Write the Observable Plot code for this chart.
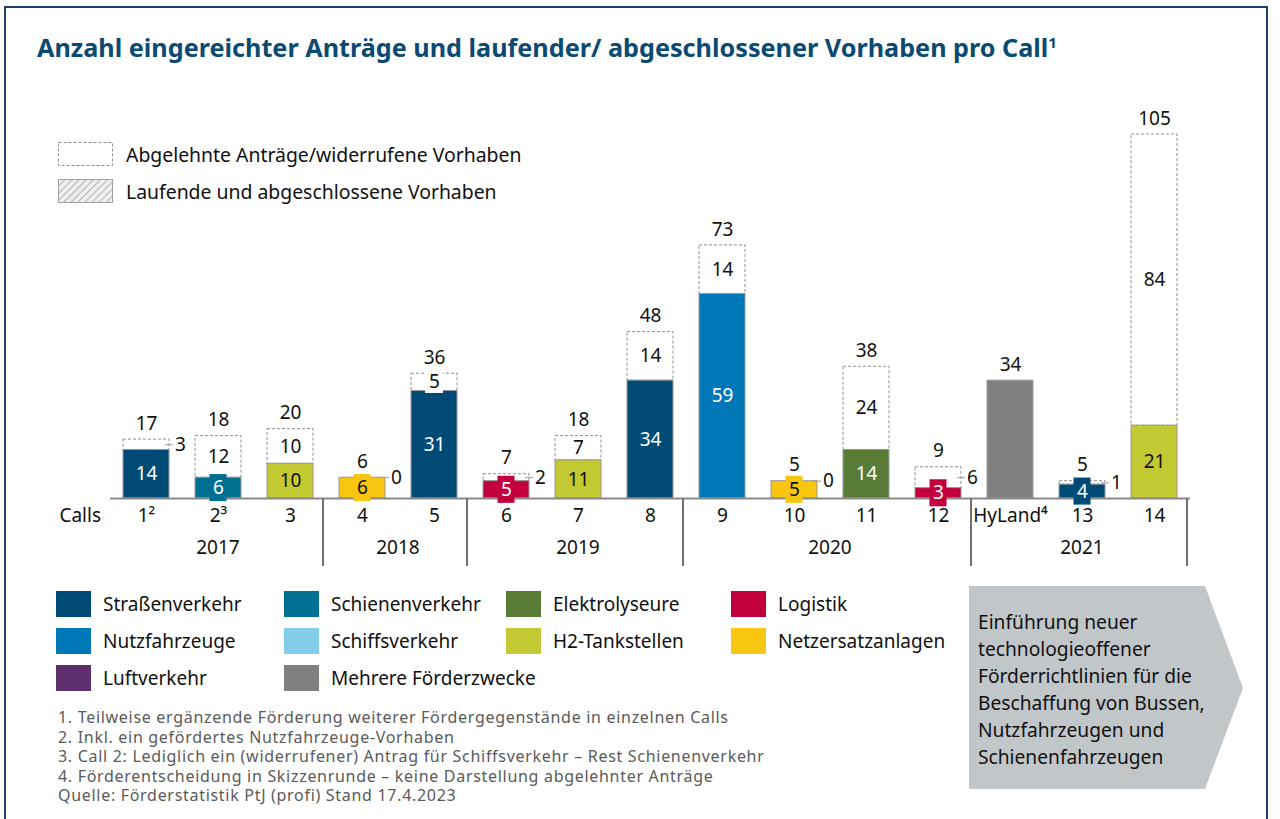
<!DOCTYPE html>
<html>
<head>
<meta charset="utf-8">
<script src="https://cdn.jsdelivr.net/npm/d3@7"></script>
<script src="https://cdn.jsdelivr.net/npm/@observablehq/plot@0.6"></script>
<style>
  html, body { margin: 0; padding: 0; background: #fff; }
  #page { position: relative; width: 1280px; height: 819px; overflow: hidden; background: #fff; font-family: "Noto Sans", sans-serif; color: #111; }
  #frame { position: absolute; left: 4px; top: 6px; width: 1264px; height: 900px; border: 2px solid #223f6b; box-sizing: border-box; }
  #title { position: absolute; left: 0; top: 30px; }
  #toplegend { position: absolute; left: 58px; top: 142px; font-size: 19.4px; }
  #toplegend .row { position: absolute; left: 0; height: 24px; white-space: nowrap; }
  #toplegend .row span { position: absolute; left: 68px; top: 50%; transform: translateY(-50%); }
  #chart { position: absolute; left: 0; top: 100px; }
  .leg { position: absolute; height: 26px; white-space: nowrap; font-size: 19px; }
  .leg .sw { position: absolute; left: 0; top: 0; width: 35px; height: 26px; }
  .leg .lb { position: absolute; left: 47px; top: 50%; transform: translateY(-50%); }
  #notes { position: absolute; left: 58px; top: 708px; font-size: 16px; letter-spacing: 0.7px; line-height: 19.5px; color: #5a5a5a; white-space: nowrap; }
  #arrow { position: absolute; left: 969px; top: 586px; width: 274px; height: 203px; background: #c1c6c9;
           clip-path: polygon(0 0, 236px 0, 274px 102px, 236px 203px, 0 203px);
           box-sizing: border-box; padding: 22px 0 0 9px; font-size: 19.2px; line-height: 27px; color: #111; }
</style>
</head>
<body>
<div id="page">
  <div id="frame"></div>
  <div id="title"></div>
  <div id="toplegend"></div>
  <div id="chart"></div>
  <div id="legend"></div>
  <div id="notes"></div>
  <div id="arrow"></div>
</div>
<script>
// ---------- data ----------
const titleText = "Anzahl eingereichter Anträge und laufender/ abgeschlossener Vorhaben pro Call";
const calls      = ["1", "2", "3", "4", "5", "6", "7", "8", "9", "10", "11", "12", "HyLand", "13", "14"];
const callLabels = ["1²", "2³", "3", "4", "5", "6", "7", "8", "9", "10", "11", "12", "HyLand⁴", "13", "14"];
const callYears  = ["2017", "2017", "2017", "2018", "2018", "2019", "2019", "2019", "2020", "2020", "2020", "2020", "2021", "2021", "2021"];
const funded     = [14, 6, 10, 6, 31, 5, 11, 34, 59, 5, 14, 3, 34, 4, 21];
const rejected   = [3, 12, 10, 0, 5, 2, 7, 14, 14, 0, 24, 6, null, 1, 84];
const totals     = [17, 18, 20, 6, 36, 7, 18, 48, 73, 5, 38, 9, 34, 5, 105];
const purposes   = ["Straßenverkehr", "Schienenverkehr", "H2-Tankstellen", "Netzersatzanlagen", "Straßenverkehr",
                    "Logistik", "H2-Tankstellen", "Straßenverkehr", "Nutzfahrzeuge", "Netzersatzanlagen",
                    "Elektrolyseure", "Logistik", "Mehrere Förderzwecke", "Straßenverkehr", "H2-Tankstellen"];
const years = ["2017", "2018", "2019", "2020", "2021"];
const purposeNames  = ["Straßenverkehr", "Schienenverkehr", "Elektrolyseure", "Logistik",
                       "Nutzfahrzeuge", "Schiffsverkehr", "H2-Tankstellen", "Netzersatzanlagen",
                       "Luftverkehr", "Mehrere Förderzwecke"];
const purposeColors = ["#004b76", "#006f92", "#587c36", "#c2003d",
                       "#0077b6", "#83cdea", "#c3c932", "#f8c611",
                       "#5e2f6c", "#808080"];
const statusLegend = ["Abgelehnte Anträge/widerrufene Vorhaben", "Laufende und abgeschlossene Vorhaben"];
const footnotes = [
  "1. Teilweise ergänzende Förderung weiterer Fördergegenstände in einzelnen Calls",
  "2. Inkl. ein gefördertes Nutzfahrzeuge-Vorhaben",
  "3. Call 2: Lediglich ein (widerrufener) Antrag für Schiffsverkehr – Rest Schienenverkehr",
  "4. Förderentscheidung in Skizzenrunde – keine Darstellung abgelehnter Anträge",
  "Quelle: Förderstatistik PtJ (profi) Stand 17.4.2023"
];
const arrowText = ["Einführung neuer", "technologieoffener", "Förderrichtlinien für die",
                   "Beschaffung von Bussen,", "Nutzfahrzeugen und", "Schienenfahrzeugen"];

// ---------- derived rows ----------
const rows = calls.map((c, i) => ({
  call: c, label: callLabels[i], year: callYears[i], funded: funded[i],
  rejected: rejected[i], total: totals[i], purpose: purposes[i]
}));
const colorOf = Object.fromEntries(purposeNames.map((p, i) => [p, purposeColors[i]]));
const isLight = p => d3.lab(colorOf[p]).l > 65;
const labelOf = Object.fromEntries(rows.map(r => [r.call, r.label]));
const withRej = rows.filter(r => r.rejected != null);
const rejOutside = withRej.filter(r => r.rejected <= 3 || r.total < 10);
const rejInside = withRej.filter(r => !(r.rejected <= 3 || r.total < 10));
const rejHalo = rejInside.filter(r => r.rejected < 6);
const fundedLabeled = rows.filter(r => r.rejected != null);
const smallFunded = fundedLabeled.filter(r => r.funded <= 6);
const mid = r => r.funded + r.rejected / 2;

// ---------- title ----------
{
  const svg = d3.select("#title").append("svg").attr("width", 1280).attr("height", 40);
  const t = svg.append("text").attr("x", 37).attr("y", 27)
    .attr("font-family", "'Noto Sans', sans-serif").attr("font-weight", 700).attr("font-size", 25)
    .attr("fill", "#0b4a72").attr("textLength", 1020).attr("lengthAdjust", "spacingAndGlyphs");
  t.append("tspan").text(titleText);
  t.append("tspan").attr("dy", -9).attr("font-size", 15).text("1");
}

// ---------- top legend ----------
{
  const tl = d3.select("#toplegend");
  statusLegend.forEach((s, i) => {
    const row = tl.append("div").attr("class", "row").style("top", (i * 37) + "px");
    const svg = row.append("svg").attr("width", 56).attr("height", 24);
    if (i === 0) {
      svg.append("rect").attr("x", 0.5).attr("y", 0.5).attr("width", 54).attr("height", 23)
        .attr("fill", "#fff").attr("stroke", "#8f8f8f").attr("stroke-dasharray", "3,2");
    } else {
      const pat = svg.append("defs").append("pattern").attr("id", "hatch").attr("patternUnits", "userSpaceOnUse")
        .attr("width", 5).attr("height", 5).attr("patternTransform", "rotate(45)");
      pat.append("rect").attr("width", 5).attr("height", 5).attr("fill", "#efefef");
      pat.append("line").attr("x1", 0).attr("y1", 0).attr("x2", 0).attr("y2", 5).attr("stroke", "#b5b5b5").attr("stroke-width", 2);
      svg.append("rect").attr("x", 0.5).attr("y", 0.5).attr("width", 54).attr("height", 23)
        .attr("fill", "url(#hatch)").attr("stroke", "#a0a0a0");
    }
    row.append("span").text(s);
  });
}

// ---------- chart ----------
const plot = Plot.plot({
  width: 1280, height: 470,
  marginLeft: 110, marginRight: 90, marginTop: 34, marginBottom: 72,
  x: {domain: calls, paddingInner: 0.36, paddingOuter: 0.18, label: null},
  y: {domain: [0, 105], axis: null},
  color: {domain: purposeNames, range: purposeColors},
  style: {fontFamily: "'Noto Sans', sans-serif", fontSize: "19px", color: "#111", background: "transparent", overflow: "visible"},
  marks: [
    Plot.barY(withRej, {x: "call", y1: "funded", y2: "total", fill: "#fff", stroke: "#8f8f8f", strokeWidth: 1, strokeDasharray: "3,2"}),
    Plot.barY(rows, {x: "call", y1: 0, y2: "funded", fill: "purpose", stroke: "#9a9a9a", strokeWidth: 1}),
    Plot.ruleY([0], {stroke: "#8a8a8a", strokeWidth: 2}),
    Plot.barY(smallFunded, {x: "call", y1: r => r.funded / 2 - 3.9, y2: r => r.funded / 2 + 3.9, fill: "purpose", insetLeft: 14.5, insetRight: 14.5}),
    Plot.barY(rejHalo, {x: "call", y1: r => mid(r) - 3.2, y2: r => mid(r) + 3.2, fill: "#fff", insetLeft: 14, insetRight: 14}),
    Plot.text(fundedLabeled.filter(r => !isLight(r.purpose)), {x: "call", y: r => r.funded / 2, text: r => String(r.funded), fill: "#fff", fontSize: 19}),
    Plot.text(fundedLabeled.filter(r => isLight(r.purpose)), {x: "call", y: r => r.funded / 2, text: r => String(r.funded), fill: "#111", fontSize: 19}),
    Plot.text(rejInside, {x: "call", y: mid, text: r => String(r.rejected), fill: "#111", fontSize: 19}),
    Plot.tickY(rejOutside, {x: "call", y: mid, stroke: "#9a9a9a", strokeWidth: 1, insetLeft: 38, dx: 4}),
    Plot.text(rejOutside, {x: "call", y: mid, dx: 34, text: r => String(r.rejected), fill: "#111", fontSize: 19}),
    Plot.text(rows, {x: "call", y: "total", dy: -16, text: r => String(r.total), fill: "#111", fontSize: 19}),
    Plot.axisX({tickSize: 0, tickPadding: 10, tickFormat: d => labelOf[d], fontSize: 19, fill: "#111", label: null})
  ]
});
document.getElementById("chart").appendChild(plot);

// year grouping (through the plot's own scales)
{
  const xs = plot.scale("x");
  const ys = plot.scale("y");
  const center = c => xs.apply(c) + xs.bandwidth / 2;
  const base = ys.apply(0);
  const g = d3.select(plot).append("g").attr("font-family", "'Noto Sans', sans-serif").attr("font-size", 19).attr("fill", "#111");
  years.forEach(yr => {
    const members = rows.filter(r => r.year === yr);
    const first = members[0].call, last = members[members.length - 1].call;
    const cx = (center(first) + center(last)) / 2;
    g.append("text").attr("x", cx).attr("y", base + 49).attr("text-anchor", "middle")
      .attr("dominant-baseline", "central").text(yr);
    const sx = center(last) + xs.step / 2 - 3;
    g.append("line").attr("x1", sx).attr("x2", sx).attr("y1", base).attr("y2", base + 68)
      .attr("stroke", "#707070").attr("stroke-width", 2);
  });
  g.append("text").attr("x", xs.range[0] - 9).attr("y", base + 17).attr("text-anchor", "end")
    .attr("dominant-baseline", "central").text("Calls");
}

// ---------- bottom legend ----------
{
  const colLeft = [56, 284, 506, 731];
  const lg = d3.select("#legend");
  purposeNames.forEach((p, i) => {
    const item = lg.append("div").attr("class", "leg")
      .style("left", colLeft[i % 4] + "px").style("top", (591 + Math.floor(i / 4) * 37) + "px");
    item.append("div").attr("class", "sw").style("background", colorOf[p]);
    item.append("div").attr("class", "lb").text(p);
  });
}

// ---------- footnotes & arrow ----------
d3.select("#notes").selectAll("div").data(footnotes).join("div").text(d => d);
d3.select("#arrow").selectAll("div").data(arrowText).join("div").text(d => d);
</script>
</body>
</html>
